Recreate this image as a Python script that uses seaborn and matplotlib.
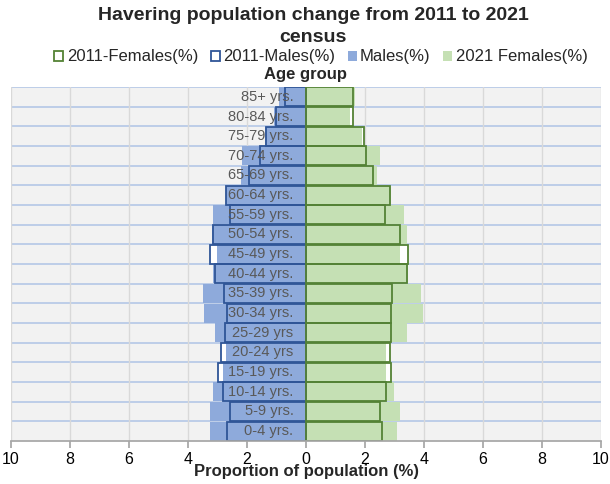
import matplotlib
matplotlib.use("Agg")
import matplotlib.pyplot as plt
from matplotlib.patches import Patch
from matplotlib.ticker import MultipleLocator, FuncFormatter
import pandas as pd
import seaborn as sns

# Age bands, oldest at the top of the pyramid
age_groups = ["85+ yrs.", "80-84 yrs.", "75-79 yrs.", "70-74 yrs.", "65-69 yrs.",
              "60-64 yrs.", "55-59 yrs.", "50-54 yrs.", "45-49 yrs.", "40-44 yrs.",
              "35-39 yrs.", "30-34 yrs.", "25-29 yrs", "20-24 yrs", "15-19 yrs.",
              "10-14 yrs.", "5-9 yrs.", "0-4 yrs."]

# Share of total population (%) by age band
males_2021 = [0.92, 1.08, 1.40, 2.16, 2.20, 2.72, 3.14, 3.18, 3.02, 3.14,
              3.48, 3.45, 3.10, 2.70, 2.80, 3.14, 3.27, 3.25]
females_2021 = [1.65, 1.48, 1.91, 2.50, 2.39, 2.87, 3.33, 3.44, 3.18, 3.45,
                3.89, 3.95, 3.42, 2.70, 2.70, 2.99, 3.20, 3.07]
males_2011 = [0.72, 1.03, 1.37, 1.56, 1.93, 2.72, 2.59, 3.16, 3.27, 3.10,
              2.77, 2.68, 2.74, 2.89, 3.00, 2.80, 2.57, 2.67]
females_2011 = [1.59, 1.61, 1.95, 2.05, 2.27, 2.84, 2.67, 3.18, 3.47, 3.44,
                2.90, 2.88, 2.88, 2.84, 2.88, 2.70, 2.50, 2.56]

BLUE = "#8eaadb"
BLUE_EDGE = "#2f5597"
GREEN = "#c5e0b4"
GREEN_EDGE = "#548235"
LABEL_GREY = "#595959"

sns.set_theme(style="white")
plt.rcParams["font.family"] = ["Liberation Sans", "DejaVu Sans"]

df = pd.DataFrame({
    "age": age_groups,
    "m2021": [-v for v in males_2021],
    "f2021": females_2021,
    "m2011": [-v for v in males_2011],
    "f2011": females_2011,
})

fig = plt.figure(figsize=(6.1, 4.84), dpi=100)
ax = fig.add_axes([11 / 610, 1 - 441 / 484, 590 / 610, (441 - 87) / 484])
ax.set_facecolor("#f2f2f2")

bw = 0.98
# 2011 bars underneath in white, so any shrinkage since 2011 shows as a gap
for col in ["m2011", "f2011"]:
    sns.barplot(data=df, x=col, y="age", order=age_groups, orient="h",
                color="white", width=bw, linewidth=0, saturation=1, ax=ax)
# 2021 filled bars
sns.barplot(data=df, x="m2021", y="age", order=age_groups, orient="h",
            color=BLUE, width=bw, linewidth=0, saturation=1, ax=ax)
sns.barplot(data=df, x="f2021", y="age", order=age_groups, orient="h",
            color=GREEN, width=bw, linewidth=0, saturation=1, ax=ax)
# 2011 outlines on top
sns.barplot(data=df, x="m2011", y="age", order=age_groups, orient="h",
            fill=False, edgecolor=BLUE_EDGE, width=bw, linewidth=1.3, ax=ax)
sns.barplot(data=df, x="f2011", y="age", order=age_groups, orient="h",
            fill=False, edgecolor=GREEN_EDGE, width=bw, linewidth=1.3, ax=ax)

n = len(age_groups)
ax.set_xlim(-10, 10)
ax.set_ylim(n - 0.5, -0.5)
ax.set_axisbelow(True)

# grid: grey verticals every 2%, light blue separators between age bands
ax.xaxis.set_major_locator(MultipleLocator(2))
ax.xaxis.set_major_formatter(FuncFormatter(lambda v, p: f"{abs(v):.0f}"))
ax.grid(axis="x", color="#d9d9d9", linewidth=1)
for k in range(n):
    ax.axhline(k - 0.5, color="#b4c7e7", linewidth=1.2, zorder=0.5)

# age band labels sit just left of the centre line
ax.set_yticks([])
for i, lab in enumerate(age_groups):
    ax.annotate(lab, xy=(0, i), xytext=(-9, 0), textcoords="offset points",
                ha="right", va="center", fontsize=10.5, color=LABEL_GREY, zorder=6)

for side in ["top", "right", "left"]:
    ax.spines[side].set_visible(False)
ax.spines["bottom"].set_color("#a6a6a6")
ax.tick_params(axis="x", bottom=True, length=5, color="#a6a6a6",
               labelsize=11.5, labelcolor="black", pad=3)

ax.set_xlabel("Proportion of population (%)", fontsize=12, fontweight="bold",
              labelpad=-2)
ax.set_ylabel("")

fig.text(0.513, 1 - 15 / 484, "Havering population change from 2011 to 2021",
         ha="center", va="center", fontsize=14, fontweight="bold")
fig.text(0.513, 1 - 37 / 484, "census", ha="center", va="center",
         fontsize=14, fontweight="bold")
fig.text(0.5, 1 - 75 / 484, "Age group", ha="center", va="center",
         fontsize=12, fontweight="bold")

handles = [
    Patch(facecolor="none", edgecolor=GREEN_EDGE, linewidth=1.3, label="2011-Females(%)"),
    Patch(facecolor="none", edgecolor=BLUE_EDGE, linewidth=1.3, label="2011-Males(%)"),
    Patch(facecolor=BLUE, edgecolor="none", label="Males(%)"),
    Patch(facecolor=GREEN, edgecolor="none", label="2021 Females(%)"),
]
fig.legend(handles=handles, loc="center", bbox_to_anchor=(0.526, 1 - 57 / 484),
           ncol=4, frameon=False, fontsize=12, handlelength=0.55, handleheight=0.55,
           handletextpad=0.2, columnspacing=0.75, borderpad=0)

fig.savefig("out.png", dpi=100)
